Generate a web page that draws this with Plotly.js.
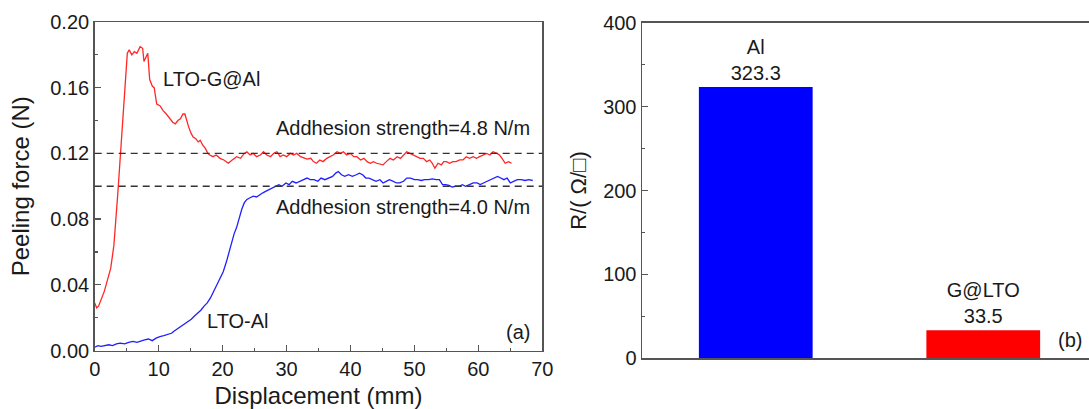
<!DOCTYPE html>
<html>
<head>
<meta charset="utf-8">
<script src="https://cdn.plot.ly/plotly-3.0.1.min.js"></script>
<style>
html, body { margin: 0; padding: 0; background: #ffffff; overflow: hidden; width: 1089px; height: 409px; }
#chart { width: 1097px; height: 409px; }
</style>
</head>
<body>
<div id="chart"></div>
<script>
// ---- Panel (a): peeling force vs displacement ----
const redX = [
  0, 0.3, 0.6, 1.0, 1.5, 2.0, 2.5, 3.0, 3.3, 3.6,
  3.9, 4.2, 4.5, 4.8, 5.1, 5.4, 5.8, 6.2, 6.6, 7.1,
  7.5, 7.7, 8.0, 8.3, 8.6, 9.0, 9.3, 9.7, 10.2, 10.7,
  11.2, 11.8, 12.2, 12.6, 13.0, 13.4, 13.8, 14.1, 14.4, 14.7,
  15.1, 15.4, 15.8, 16.2, 16.5, 16.9, 17.3, 17.7, 18.0, 18.5,
  19.0, 19.6, 20.2, 20.9, 21.5, 22.2, 22.8, 23.4, 23.8, 24.3,
  24.8, 25.3, 25.9, 26.4, 26.9, 27.5, 28.0, 28.5, 29.0, 29.5,
  30.0, 30.6, 31.1, 31.6, 32.2, 32.7, 33.2, 33.8, 34.2, 34.7,
  35.2, 35.7, 36.3, 36.8, 37.3, 37.9, 38.4, 38.9, 39.4, 40.0,
  40.5, 41.0, 41.6, 42.1, 42.6, 43.1, 43.6, 44.1, 44.6, 45.1,
  45.6, 46.2, 46.7, 47.3, 47.8, 48.3, 48.8, 49.3, 49.8, 50.4,
  50.9, 51.4, 51.9, 52.4, 52.8, 53.2, 53.7, 54.2, 54.6, 55.0,
  55.5, 56.0, 56.5, 57.1, 57.6, 58.1, 58.6, 59.2, 59.7, 60.2,
  60.7, 61.3, 61.8, 62.3, 62.9, 63.3, 63.7, 64.2, 64.7, 65.2
];
const redY = [
  0.029, 0.026, 0.027, 0.031, 0.036, 0.043, 0.050, 0.064, 0.078, 0.095,
  0.112, 0.130, 0.150, 0.170, 0.181, 0.183, 0.180, 0.182, 0.181, 0.185,
  0.184, 0.176, 0.179, 0.181, 0.165, 0.161, 0.160, 0.150, 0.149, 0.146,
  0.144, 0.141, 0.139, 0.138, 0.140, 0.141, 0.144, 0.144, 0.139, 0.136,
  0.132, 0.130, 0.129, 0.127, 0.128, 0.125, 0.123, 0.120, 0.119, 0.118,
  0.119, 0.117, 0.116, 0.114, 0.116, 0.118, 0.117, 0.120, 0.121, 0.119,
  0.120, 0.118, 0.119, 0.121, 0.119, 0.118, 0.120, 0.121, 0.118, 0.119,
  0.118, 0.120, 0.119, 0.120, 0.118, 0.117, 0.1165, 0.117, 0.115, 0.114,
  0.116, 0.115, 0.117, 0.118, 0.119, 0.121, 0.120, 0.121, 0.119, 0.120,
  0.118, 0.118, 0.116, 0.117, 0.115, 0.114, 0.115, 0.114, 0.1135, 0.113,
  0.115, 0.117, 0.116, 0.118, 0.117, 0.119, 0.121, 0.120, 0.119, 0.118,
  0.117, 0.117, 0.115, 0.116, 0.114, 0.111, 0.114, 0.113, 0.115, 0.115,
  0.114, 0.115, 0.115, 0.116, 0.116, 0.118, 0.117, 0.118, 0.117, 0.118,
  0.119, 0.120, 0.119, 0.121, 0.120, 0.119, 0.117, 0.114, 0.115, 0.114
];
const blueX = [
  0, 0.5, 1.0, 1.6, 2.2, 2.8, 3.4, 4.0, 4.7, 5.3,
  6.0, 6.6, 7.2, 7.8, 8.4, 9.0, 9.6, 10.2, 10.8, 11.4,
  12.0, 12.5, 13.1, 13.6, 14.1, 14.6, 15.1, 15.6, 16.1, 16.6,
  17.1, 17.6, 18.1, 18.6, 19.1, 19.6, 20.1, 20.6, 21.0, 21.4,
  21.8, 22.2, 22.6, 23.0, 23.4, 23.8, 24.3, 24.8, 25.3, 25.8,
  26.3, 26.8, 27.3, 27.8, 28.3, 28.8, 29.3, 29.9, 30.4, 30.9,
  31.5, 32.0, 32.6, 33.2, 33.7, 34.3, 34.9, 35.4, 36.0, 36.6,
  37.2, 37.7, 38.1, 38.6, 39.1, 39.7, 40.3, 40.9, 41.4, 41.9,
  42.4, 42.9, 43.5, 44.0, 44.6, 45.1, 45.6, 46.1, 46.7, 47.2,
  47.7, 48.3, 48.8, 49.4, 50.0, 50.5, 51.1, 51.6, 52.2, 52.8,
  53.4, 53.9, 54.4, 54.9, 55.4, 55.9, 56.4, 57.0, 57.5, 58.0,
  58.6, 59.2, 59.8, 60.3, 60.8, 61.4, 62.0, 62.5, 63.0, 63.5,
  64.0, 64.5, 65.0, 65.5, 66.1, 66.7, 67.3, 67.9, 68.5
];
const blueY = [
  0.002, 0.003, 0.0025, 0.003, 0.0035, 0.003, 0.004, 0.0045, 0.004, 0.005,
  0.0055, 0.005, 0.006, 0.0065, 0.007, 0.006, 0.0075, 0.0085, 0.009, 0.010,
  0.0105, 0.012, 0.0135, 0.015, 0.016, 0.0175, 0.019, 0.021, 0.0225, 0.0245,
  0.027, 0.029, 0.032, 0.036, 0.039, 0.043, 0.048, 0.054, 0.060, 0.066,
  0.071, 0.075, 0.081, 0.086, 0.090, 0.092, 0.093, 0.094, 0.0935, 0.095,
  0.096, 0.097, 0.098, 0.099, 0.100, 0.101, 0.100, 0.102, 0.101, 0.103,
  0.102, 0.103, 0.104, 0.105, 0.104, 0.104, 0.103, 0.105, 0.104, 0.105,
  0.106, 0.108, 0.109, 0.107, 0.106, 0.107, 0.106, 0.107, 0.108, 0.107,
  0.105, 0.105, 0.104, 0.103, 0.104, 0.102, 0.103, 0.104, 0.103, 0.102,
  0.102, 0.103, 0.105, 0.105, 0.104, 0.104, 0.1035, 0.104, 0.104, 0.1045,
  0.104, 0.104, 0.101, 0.101, 0.1005, 0.0995, 0.100, 0.100, 0.101, 0.100,
  0.101, 0.102, 0.102, 0.101, 0.102, 0.103, 0.104, 0.105, 0.106, 0.105,
  0.104, 0.105, 0.102, 0.103, 0.104, 0.104, 0.1035, 0.104, 0.1035
];
const adhesionLevels = [0.12, 0.10];
const adhesionLabels = ["Addhesion strength=4.8 N/m", "Addhesion strength=4.0 N/m"];
const seriesNames = ["LTO-G@Al", "LTO-Al"];

// ---- Panel (b): sheet resistance ----
const barCategories = ["Al", "G@LTO"];
const barValues = [323.3, 33.5];

const FONT = "Liberation Sans, Arial, Helvetica, sans-serif";
const TXT = "#1a1a1a";
const AXC = "#555555";

const W = 1097, H = 409;
const px = (v) => v / W;
const py = (v) => 1 - v / H;

const traces = [
  { x: redX, y: redY, type: "scatter", mode: "lines", name: seriesNames[0],
    line: { color: "#ff2626", width: 1.3 }, xaxis: "x", yaxis: "y", showlegend: false },
  { x: blueX, y: blueY, type: "scatter", mode: "lines", name: seriesNames[1],
    line: { color: "#1f1fff", width: 1.3 }, xaxis: "x", yaxis: "y", showlegend: false },
  { x: barCategories, y: barValues, type: "bar", xaxis: "x2", yaxis: "y2",
    marker: { color: ["#0000ff", "#ff0000"], line: { width: 0 } },
    width: 0.5, showlegend: false,
    text: barCategories.map((c, i) => c + "<br>" + barValues[i].toFixed(1)),
    textposition: "outside", cliponaxis: false, constraintext: "none",
    textfont: { family: FONT, size: 20, color: TXT } }
];

const commonAxis = {
  showline: true, mirror: true, linecolor: AXC, linewidth: 1.5,
  ticks: "inside", tickcolor: AXC, tickwidth: 1.3, ticklen: 6,
  zeroline: false, showgrid: false,
  tickfont: { family: FONT, size: 20, color: TXT }
};

const layout = {
  width: W, height: H,
  margin: { l: 0, r: 0, t: 0, b: 0 },
  paper_bgcolor: "#ffffff", plot_bgcolor: "#ffffff",
  font: { family: FONT, color: TXT },
  xaxis: Object.assign({}, commonAxis, {
    domain: [px(94.7), px(542.3)], anchor: "y",
    range: [0, 70], dtick: 10, tick0: 0,
    minor: { ticks: "inside", ticklen: 3, dtick: 5, tickcolor: AXC, tickwidth: 1.2 },
    title: { text: "Displacement (mm)", font: { family: FONT, size: 24, color: TXT }, standoff: 9 }
  }),
  yaxis: Object.assign({}, commonAxis, {
    domain: [py(350.5), py(22)], anchor: "x",
    range: [0, 0.2], dtick: 0.04, tick0: 0, tickformat: ".2f",
    minor: { ticks: "inside", ticklen: 3, dtick: 0.02, tickcolor: AXC, tickwidth: 1.2 },
    title: { text: "Peeling force (N)", font: { family: FONT, size: 24, color: TXT }, standoff: 14 }
  }),
  xaxis2: Object.assign({}, commonAxis, {
    domain: [px(642), 1], anchor: "y2",
    type: "category", range: [-0.5, 1.5],
    ticks: "", showticklabels: false
  }),
  yaxis2: Object.assign({}, commonAxis, {
    domain: [py(358.3), py(22.7)], anchor: "x2",
    range: [0, 400], dtick: 100, tick0: 0,
    minor: { ticks: "inside", ticklen: 3, dtick: 50, tickcolor: AXC, tickwidth: 1.2 },
    title: { text: "R/( Ω/□)", font: { family: FONT, size: 22, color: TXT }, standoff: 10 }
  }),
  shapes: adhesionLevels.map(v => ({
    type: "line", xref: "x domain", yref: "y", x0: 0, x1: 1, y0: v, y1: v,
    line: { color: "#333333", width: 1.3, dash: "7px,5px" }
  })),
  annotations: [
    { xref: "x", yref: "y", x: 10.3, y: 0.1651, xanchor: "left", yanchor: "middle",
      text: seriesNames[0], showarrow: false, font: { family: FONT, size: 20, color: TXT } },
    { xref: "x", yref: "y", x: 17.25, y: 0.0181, xanchor: "left", yanchor: "middle",
      text: seriesNames[1], showarrow: false, font: { family: FONT, size: 20, color: TXT } },
    { xref: "x", yref: "y", x: 68.4, y: 0.1357, xanchor: "right", yanchor: "middle",
      text: adhesionLabels[0], showarrow: false, font: { family: FONT, size: 20, color: TXT } },
    { xref: "x", yref: "y", x: 68.4, y: 0.0876, xanchor: "right", yanchor: "middle",
      text: adhesionLabels[1], showarrow: false, font: { family: FONT, size: 20, color: TXT } },
    { xref: "x", yref: "y", x: 68.4, y: 0.0114, xanchor: "right", yanchor: "middle",
      text: "(a)", showarrow: false, font: { family: FONT, size: 20, color: TXT } },
    { xref: "paper", yref: "paper", x: px(1056), y: py(340), xanchor: "left", yanchor: "middle",
      text: "(b)", showarrow: false, font: { family: FONT, size: 20, color: TXT } }
  ]
};

Plotly.newPlot("chart", traces, layout, { displayModeBar: false, staticPlot: true });
</script>
</body>
</html>
